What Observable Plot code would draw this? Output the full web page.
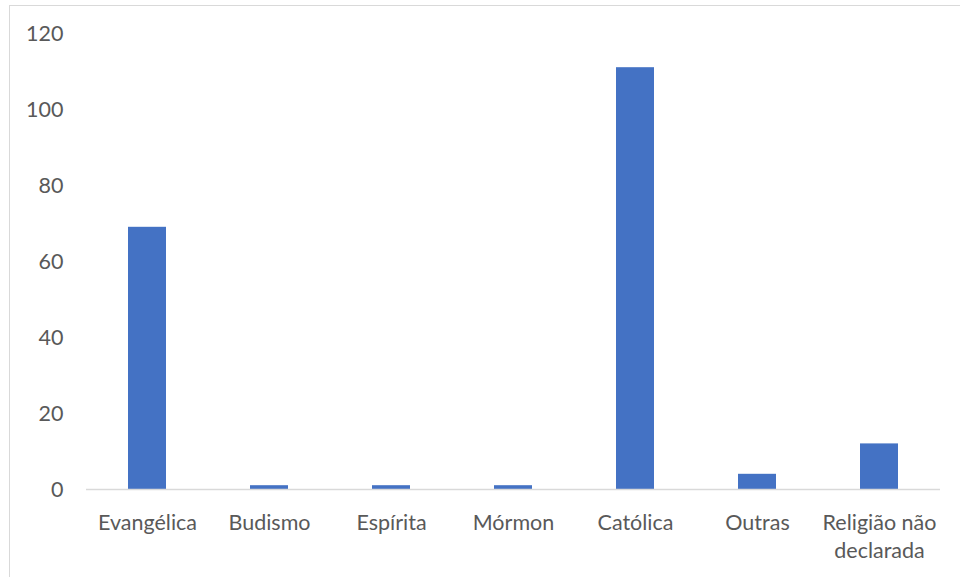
<!DOCTYPE html>
<html>
<head>
<meta charset="utf-8">
<script src="https://cdn.jsdelivr.net/npm/d3@7"></script>
<script src="https://cdn.jsdelivr.net/npm/@observablehq/plot@0.6"></script>
<style>
  html, body { margin: 0; padding: 0; background: #fff; }
  #wrap { position: relative; width: 960px; height: 577px; overflow: hidden; }
  #border { position: absolute; left: 9px; top: 5px; width: 1200px; height: 1200px; border: 1px solid #d9d9d9; box-sizing: border-box; }
  #chart { position: absolute; left: 0; top: 0; }
</style>
</head>
<body>
<div id="wrap"><div id="border"></div><div id="chart"></div></div>
<script>
const categories = ["Evangélica", "Budismo", "Espírita", "Mórmon", "Católica", "Outras", "Religião não declarada"];
const values = [69, 1, 1, 1, 111, 4, 12];
const yTicks = [0, 20, 40, 60, 80, 100, 120];
const tickLabels = {"Religião não declarada": "Religião não\ndeclarada"};

const data = categories.map((c, i) => ({category: c, value: values[i]}));

const chart = Plot.plot({
  width: 960,
  height: 577,
  marginLeft: 86,
  marginRight: 20,
  marginTop: 33,
  marginBottom: 88,
  style: {fontFamily: "Lato, sans-serif", background: "transparent"},
  x: {domain: categories, paddingInner: 0.69, paddingOuter: 0.345, align: 0.5},
  y: {domain: [0, 120]},
  marks: [
    Plot.barY(data, {x: "category", y: "value", fill: "#4472C4"}),
    Plot.ruleY([0], {stroke: "#d9d9d9", strokeWidth: 1.5}),
    Plot.axisY({ticks: yTicks, tickSize: 0, tickPadding: 23, fontSize: 21.5, fill: "#595959", label: null, dy: 1}),
    Plot.axisX({tickSize: 0, tickPadding: 20, fontSize: 21.5, fill: "#595959", label: null, lineHeight: 1.33,
      tickFormat: d => tickLabels[d] ?? d})
  ]
});
document.getElementById("chart").appendChild(chart);
</script>
</body>
</html>
